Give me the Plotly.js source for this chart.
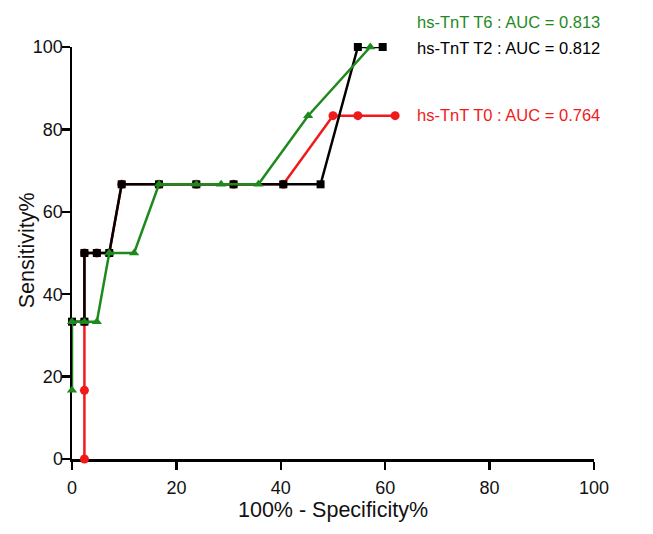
<!DOCTYPE html>
<html><head><meta charset="utf-8">
<script src="https://cdn.plot.ly/plotly-3.0.1.min.js"></script>
<style>html,body{margin:0;padding:0;background:#fff}</style>
</head><body><div id="chart" style="width:653px;height:534px"></div>
<script>
// 100% - Specificity% (x) and Sensitivity% (y) for each ROC curve
const t0X = [2.38, 2.38, 2.38, 2.38, 4.76, 7.14, 9.52, 16.67, 23.81, 30.95, 40.48, 50.0, 54.76, 61.9];
const t0Y = [0, 16.67, 33.33, 50, 50, 50, 66.67, 66.67, 66.67, 66.67, 66.67, 83.33, 83.33, 83.33];
const t2X = [0, 2.38, 2.38, 4.76, 7.14, 9.52, 16.67, 23.81, 30.95, 40.48, 47.62, 54.76, 59.52];
const t2Y = [33.33, 33.33, 50, 50, 50, 66.67, 66.67, 66.67, 66.67, 66.67, 66.67, 100, 100];
const t6X = [0, 0, 2.38, 4.76, 7.14, 11.9, 16.67, 23.81, 28.57, 35.71, 45.24, 57.14];
const t6Y = [16.67, 33.33, 33.33, 33.33, 50, 50, 66.67, 66.67, 66.67, 66.67, 83.33, 100];
const legendLabels = ["hs-TnT T6 : AUC = 0.813", "hs-TnT T2 : AUC = 0.812", "hs-TnT T0 : AUC = 0.764"];
const tickVals = [0, 20, 40, 60, 80, 100];
const xTitle = '100% - Specificity%';
const yTitle = 'Sensitivity%';

const RED = '#f01a1a', BLACK = '#000000', GREEN = '#1e8a1e';
const font = 'Arial, "Liberation Sans", Helvetica, sans-serif';

const traces = [
  {x: t0X, y: t0Y, mode: 'lines+markers', line: {color: RED, width: 2.5},
   marker: {symbol: 'circle', size: 9, color: RED}, cliponaxis: false},
  {x: t2X, y: t2Y, mode: 'lines+markers', line: {color: BLACK, width: 2.5},
   marker: {symbol: 'square', size: 8, color: BLACK}, cliponaxis: false},
  {x: t6X, y: t6Y, mode: 'lines+markers', line: {color: GREEN, width: 2.5},
   marker: {symbol: 'triangle-up', size: 9, color: GREEN}, cliponaxis: false}
];

const axisCommon = {
  range: [0, 100], tickvals: tickVals, showgrid: false, zeroline: false,
  showline: true, linecolor: '#000', linewidth: 2.5,
  ticks: 'outside', ticklen: 8, tickwidth: 2.5, tickcolor: '#000',
  tickfont: {family: font, size: 18, color: '#111'}, layer: 'below traces'
};

const layout = {
  width: 653, height: 534,
  margin: {l: 72, r: 59, t: 47, b: 75},
  paper_bgcolor: '#fff', plot_bgcolor: '#fff',
  showlegend: false,
  xaxis: Object.assign({}, axisCommon, {
    ticklabelstandoff: 3,
    title: {text: xTitle, font: {family: font, size: 21.5, color: '#111'}, standoff: 3}
  }),
  yaxis: Object.assign({}, axisCommon, {ticklabelstandoff: -5}),
  annotations: [
    {text: legendLabels[0], font: {family: font, size: 16.5, color: GREEN}},
    {text: legendLabels[1], font: {family: font, size: 16.5, color: BLACK}},
    {text: legendLabels[2], font: {family: font, size: 16.5, color: RED}}
  ].map((a, i) => Object.assign(a, {
    xref: 'paper', yref: 'paper', x: 0.657, xanchor: 'left', yanchor: 'middle',
    y: [1.061, 0.998, 0.835][i], showarrow: false
  })).concat([
    {text: yTitle, textangle: -90, font: {family: font, size: 21.5, color: '#111'},
     xref: 'paper', yref: 'paper', x: -0.086, y: 0.507, xanchor: 'center', yanchor: 'middle',
     showarrow: false}
  ])
};

Plotly.newPlot('chart', traces, layout, {displayModeBar: false, staticPlot: true});
</script></body></html>
